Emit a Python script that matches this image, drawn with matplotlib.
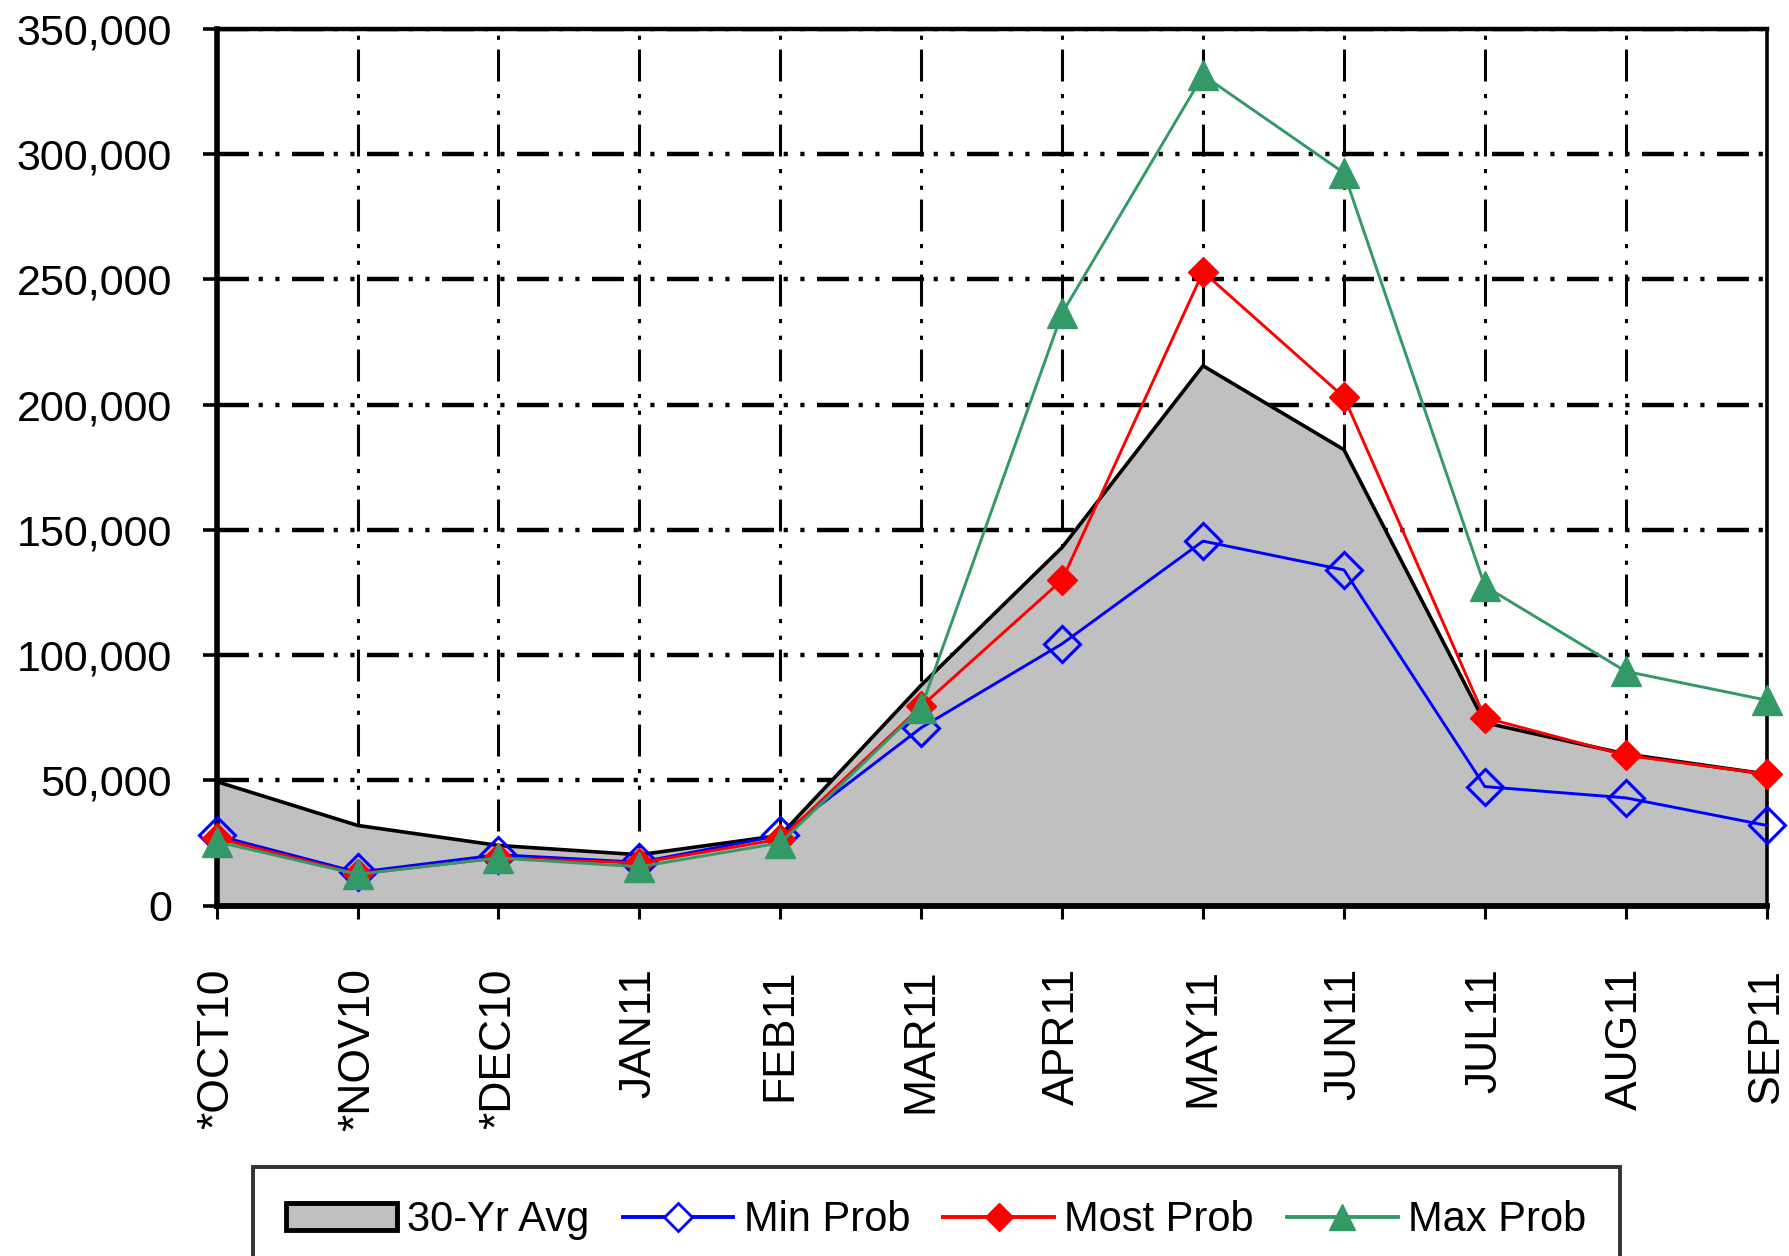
import matplotlib
matplotlib.use("Agg")
import matplotlib.pyplot as plt
import matplotlib.ticker as mticker
from matplotlib.patches import Patch
from matplotlib.lines import Line2D

months = ["*OCT10", "*NOV10", "*DEC10", "JAN11", "FEB11", "MAR11",
          "APR11", "MAY11", "JUN11", "JUL11", "AUG11", "SEP11"]
avg_30yr = [49500, 32000, 24000, 20300, 28000, 88000,
            143000, 215500, 182000, 73000, 60500, 52500]
min_prob = [28000, 13300, 20300, 17300, 28000, 71000,
            104500, 145500, 134000, 47500, 43000, 32000]
most_prob = [27000, 12600, 19000, 17000, 26500, 79500,
             130000, 253000, 203000, 75000, 60000, 52500]
max_prob = [25500, 12500, 19000, 15500, 25000, 79000,
            236500, 331500, 292500, 127500, 93500, 82000]

plt.rcParams["font.family"] = ["Liberation Sans", "DejaVu Sans"]
plt.rcParams["lines.scale_dashes"] = False

fig = plt.figure(figsize=(17.9, 12.56), dpi=100)
ax = fig.add_axes([0.121, 0.279, 0.866, 0.698])

x = list(range(len(months)))
grid_style = (0, (23, 7, 3, 9, 3, 9))

ax.fill_between(x, avg_30yr, color="#C0C0C0", zorder=1)
ax.plot(x, avg_30yr, color="black", lw=2.6, zorder=2)

ax.plot(x, min_prob, color="#0000FF", lw=2.1, marker="D", ms=18,
        mfc="none", mec="#0000FF", mew=2.2, clip_on=False, zorder=3)
ax.plot(x, most_prob, color="#FF0000", lw=2.1, marker="D", ms=15,
        mfc="#FF0000", mec="#FF0000", clip_on=False, zorder=4)
ax.plot(x, max_prob, color="#339966", lw=2.1, marker="^", ms=21,
        mfc="#339966", mec="#339966", clip_on=False, zorder=5)

ax.set_xlim(0, 11)
ax.set_ylim(0, 350000)
ax.set_xticks(x)
ax.set_xticklabels(months, rotation=90, fontsize=32)
ax.set_yticks(range(0, 350001, 50000))
ax.yaxis.set_major_formatter(mticker.FuncFormatter(lambda v, _: f"{int(v):,}"))
ax.tick_params(axis="y", labelsize=31, length=10, width=2.6, pad=22)
ax.tick_params(axis="x", length=9, width=2.2, pad=36)

ax.set_axisbelow(True)
ax.xaxis.grid(True, color="black", lw=2.2, linestyle=grid_style)
ax.yaxis.grid(True, color="black", lw=3.2, linestyle=grid_style)

for side, w in [("left", 4.0), ("bottom", 4.2), ("top", 3.2), ("right", 2.6)]:
    ax.spines[side].set_linewidth(w)
    ax.spines[side].set_color("black")

handles = [
    Patch(facecolor="#C0C0C0", edgecolor="black", linewidth=3.5),
    Line2D([], [], color="#0000FF", lw=2.8, marker="D", ms=14,
           mfc="white", mec="#0000FF", mew=2),
    Line2D([], [], color="#FF0000", lw=2.8, marker="D", ms=14,
           mfc="#FF0000", mec="#FF0000"),
    Line2D([], [], color="#339966", lw=2.8, marker="^", ms=19,
           mfc="#339966", mec="#339966"),
]
labels = ["30-Yr Avg", "Min Prob", "Most Prob", "Max Prob"]
leg = fig.legend(handles, labels, loc="upper left",
                 bbox_to_anchor=(253 / 1790, 1 - 1167 / 1256),
                 ncol=4, fontsize=30, frameon=True, fancybox=False,
                 handlelength=2.65, handleheight=0.6, handletextpad=0.25,
                 columnspacing=0.8, borderpad=0.8, numpoints=1,
                 borderaxespad=0)
leg.get_frame().set_edgecolor("black")
leg.get_frame().set_linewidth(2.8)

fig.savefig("out.png", dpi=100)
